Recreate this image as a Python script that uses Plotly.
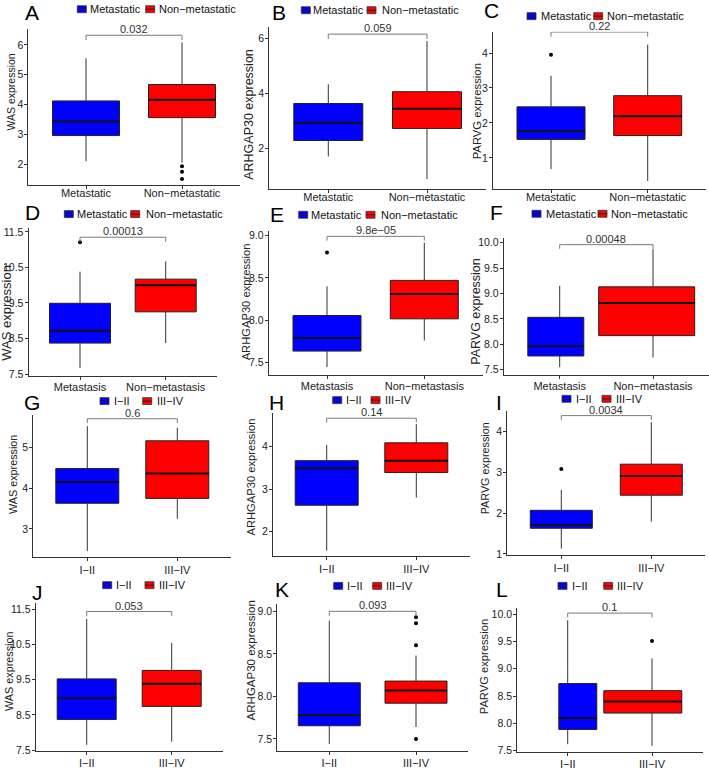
import plotly.graph_objects as go

W, H = 709, 770
BLUE, RED = "#0000FF", "#FF0000"
FONT = "Liberation Sans, Arial, sans-serif"

# ---------------- data ----------------
panel_letters = ["A", "B", "C", "D", "E", "F", "G", "H", "I", "J", "K", "L"]
genes = ["WAS", "ARHGAP30", "PARVG"] * 4
x_categories = ([["Metastatic", "Non−metastatic"]] * 3 +
                [["Metastasis", "Non−metastasis"]] * 3 +
                [["I−II", "III−IV"]] * 6)
legend_names = [["Metastatic", "Non−metastatic"]] * 6 + [["I−II", "III−IV"]] * 6

# [lower whisker, Q1, median, Q3, upper whisker]
group1_stats = [
    [2.10, 2.96, 3.43, 4.12, 5.55],
    [1.71, 2.29, 2.94, 3.64, 4.34],
    [0.68, 1.53, 1.76, 2.46, 3.35],
    [7.67, 8.37, 8.72, 9.49, 10.38],
    [7.445, 7.635, 7.79, 8.055, 8.40],
    [7.55, 7.77, 7.96, 8.53, 9.15],
    [2.46, 3.63, 4.15, 4.48, 5.52],
    [1.55, 2.62, 3.49, 3.67, 4.04],
    [1.13, 1.63, 1.71, 2.07, 2.57],
    [7.65, 8.37, 8.97, 9.52, 11.22],
    [7.44, 7.655, 7.78, 8.16, 8.89],
    [7.62, 7.89, 8.10, 8.73, 9.89],
]
group2_stats = [
    [2.05, 3.56, 4.16, 4.67, 6.08],
    [0.88, 2.73, 3.45, 4.07, 5.92],
    [0.34, 1.64, 2.19, 2.78, 4.24],
    [8.37, 9.25, 10.00, 10.17, 10.67],
    [7.76, 8.016, 8.31, 8.47, 8.915],
    [7.74, 8.17, 8.81, 9.13, 9.87],
    [3.25, 3.75, 4.36, 5.16, 5.48],
    [2.80, 3.39, 3.67, 4.09, 4.53],
    [1.79, 2.44, 2.91, 3.20, 4.23],
    [7.74, 8.74, 9.38, 9.76, 10.54],
    [7.64, 7.92, 8.07, 8.18, 8.48],
    [7.59, 8.19, 8.40, 8.60, 9.19],
]
group1_outliers = [[], [], [3.95], [11.21], [8.80], [], [], [], [3.08], [], [], []]
group2_outliers = [[1.93, 1.75, 1.50], [], [], [], [], [], [], [], [], [],
                   [8.93, 8.86, 8.60, 7.50], [9.51]]

p_values = ["0.032", "0.059", "0.22", "0.00013", "9.8e−05", "0.00048",
            "0.6", "0.14", "0.0034", "0.053", "0.093", "0.1"]
bracket_y = [6.32, 6.17, 4.60, 11.35, 8.99, 9.96, 5.70, 4.67, 4.39, 11.43, 9.00, 10.02]

y_tick_values = [
    [2, 3, 4, 5, 6], [2, 4, 6], [1, 2, 3, 4],
    [7.5, 8.5, 9.5, 10.5, 11.5], [7.5, 8.0, 8.5, 9.0], [7.5, 8.0, 8.5, 9.0, 9.5, 10.0],
    [3, 4, 5], [2, 3, 4], [1, 2, 3, 4],
    [7.5, 8.5, 9.5, 10.5, 11.5], [7.5, 8.0, 8.5, 9.0], [7.5, 8.0, 8.5, 9.0, 9.5, 10.0],
]
y_ranges = [
    [1.30, 6.54], [0.52, 6.44], [0.11, 4.61],
    [7.45, 11.62], [7.355, 9.05], [7.40, 10.10],
    [2.31, 5.80], [1.42, 4.80], [0.97, 4.51],
    [7.48, 11.68], [7.36, 9.09], [7.48, 10.12],
]

# ---------------- layout (pixels) ----------------
centers = [(86, 182), (328.3, 427), (551, 647.7),
           (80, 165.7), (327, 424.3), (559.7, 653),
           (87.3, 177.3), (326.7, 416.3), (561.3, 651.3),
           (86.7, 171.7), (329.3, 416), (567.7, 652)]
plot_tb = [(27, 185), (25, 189), (30, 189),
           (228, 377.7), (231.7, 376.7), (238, 376.7),
           (417, 561), (415, 560), (413, 559),
           (607, 756.7), (608, 756.7), (612, 757.7)]
box_w_px = [(67, 67), (69, 69), (68, 68), (61, 61), (68, 68), (56, 96),
            (63, 63), (63, 63), (62, 62), (59, 59), (62, 62), (38, 78)]
box_shift_px = [(0, 0)] * 5 + [(-3.9, -6.3)] + [(0, 0)] * 5 + [(10.1, -9.2)]
legend_pos = [(77.3, 88.3, 145.7, 156.7, 7.3), (301.3, 311, 367, 380, 8.3),
              (527, 538.7, 593.7, 605.3, 14.3), (64.3, 75, 130.7, 144, 214.3),
              (298.7, 309.3, 366, 379.3, 215), (532, 543.7, 598, 609.3, 214),
              (100, 112.3, 142.7, 155, 403.3), (332.7, 344.3, 371, 382.7, 402.3),
              (562, 573.7, 602, 613.7, 401), (102.7, 114, 145, 156.7, 589.3),
              (333.7, 345, 372.7, 384.3, 590), (558, 569.7, 603.7, 615.3, 590)]
letter_pos = [(32, 11), (279.3, 11), (491, 9), (32.5, 213), (277, 215), (496, 213),
              (32, 405), (276, 405), (499, 405), (37.5, 597), (282, 594), (502, 594)]
ytitle_pos = [(10.7, 90.8, 10.5), (249, 114, 12.5), (477, 110.5, 11.3),
              (7, 314, 13), (245.5, 303, 11.2), (476.5, 312.5, 12.5),
              (13, 478, 10.8), (251.5, 480, 11.2), (484.5, 471.7, 10.8),
              (8.3, 676.7, 10.8), (250.5, 665.8, 11.5), (483.5, 671.7, 11.2)]
x_label_standoff = [-5] * 3 + [-2] * 3 + [0] * 3 + [-1] * 3


def px(x):
    return x / W


def py(y):
    return 1 - y / H


fig = go.Figure()
shapes, annotations = [], []
layout_axes = {}

for k in range(12):
    n = k + 1
    xa = "x" if n == 1 else f"x{n}"
    ya = "y" if n == 1 else f"y{n}"
    c0, c1 = centers[k]
    s = c1 - c0
    top, bot = plot_tb[k]
    yr = y_ranges[k]
    dec = any(v % 1 for v in y_tick_values[k])

    layout_axes["xaxis" if n == 1 else f"xaxis{n}"] = dict(
        domain=[max(0, px(c0 - 0.6 * s)), min(1, px(c1 + 0.6 * s))],
        range=[-0.6, 1.6], anchor=ya, tickvals=[0, 1], ticktext=x_categories[k],
        showline=True, linecolor="#333", linewidth=1, ticks="outside", ticklen=3,
        tickcolor="#333", tickfont=dict(size=11, color="#222", family=FONT),
        ticklabelstandoff=x_label_standoff[k],
        showgrid=False, zeroline=False, fixedrange=True)
    layout_axes["yaxis" if n == 1 else f"yaxis{n}"] = dict(
        domain=[py(bot), py(top)], range=yr, anchor=xa,
        tickvals=y_tick_values[k], tickformat=".1f" if dec else "d",
        showline=True, linecolor="#333", linewidth=1, ticks="outside", ticklen=3,
        tickcolor="#333", tickfont=dict(size=10.5, color="#222", family=FONT),
        ticklabelstandoff=-1,
        showgrid=False, zeroline=False, fixedrange=True)

    for g, (stats, outl, col) in enumerate([(group1_stats[k], group1_outliers[k], BLUE),
                                             (group2_stats[k], group2_outliers[k], RED)]):
        lo, q1, med, q3, hi = stats
        bw = box_w_px[k][g] / s
        bx = g + box_shift_px[k][g] / s
        fig.add_trace(go.Scatter(x=[g, g, None, g, g], y=[lo, q1, None, q3, hi],
                                 mode="lines", line=dict(color="#333", width=1),
                                 xaxis=xa, yaxis=ya, showlegend=False, hoverinfo="skip"))
        fig.add_trace(go.Box(x=[bx], q1=[q1], median=[med], q3=[q3],
                             lowerfence=[q1], upperfence=[q3], width=bw,
                             fillcolor=col, line=dict(color="#222", width=1),
                             whiskerwidth=0, boxpoints=False, xaxis=xa, yaxis=ya,
                             showlegend=False, hoverinfo="skip"))
        fig.add_trace(go.Scatter(x=[bx - bw / 2, bx + bw / 2], y=[med, med], mode="lines",
                                 line=dict(color="#111", width=2), xaxis=xa, yaxis=ya,
                                 showlegend=False, hoverinfo="skip"))
        if outl:
            fig.add_trace(go.Scatter(x=[g] * len(outl), y=outl, mode="markers",
                                     marker=dict(color="#000", size=4), xaxis=xa, yaxis=ya,
                                     showlegend=False, hoverinfo="skip", cliponaxis=False))

    tip = 0.03 * (yr[1] - yr[0])
    b = bracket_y[k]
    fig.add_trace(go.Scatter(x=[0, 0, 1, 1], y=[b - tip, b, b, b - tip], mode="lines",
                             line=dict(color="#7a7a7a", width=1), xaxis=xa, yaxis=ya,
                             showlegend=False, hoverinfo="skip", cliponaxis=False))
    annotations.append(dict(x=0.5, y=b, xref=xa, yref=ya, text=p_values[k],
                            showarrow=False, yanchor="bottom", yshift=-2,
                            font=dict(size=11, color="#333", family=FONT)))

    lx, ly = letter_pos[k]
    annotations.append(dict(x=px(lx), y=py(ly), xref="paper", yref="paper",
                            text=panel_letters[k], showarrow=False, xanchor="center",
                            yanchor="middle", font=dict(size=21, color="#000", family=FONT)))

    tx, ty, ts = ytitle_pos[k]
    annotations.append(dict(x=px(tx), y=py(ty), xref="paper", yref="paper",
                            text=f"{genes[k]} expression", textangle=-90, showarrow=False,
                            xanchor="center", yanchor="middle",
                            font=dict(size=ts, color="#222", family=FONT)))

    k1, t1, k2, t2, lyy = legend_pos[k]
    for kx, tx2, col, name in [(k1, t1, BLUE, legend_names[k][0]),
                               (k2, t2, RED, legend_names[k][1])]:
        shapes.append(dict(type="rect", xref="paper", yref="paper",
                           x0=px(kx), x1=px(kx + 9), y0=py(lyy + 3.5), y1=py(lyy - 3.5),
                           fillcolor=col, line=dict(color="#333", width=0.8)))
        shapes.append(dict(type="line", xref="paper", yref="paper",
                           x0=px(kx), x1=px(kx + 9), y0=py(lyy), y1=py(lyy),
                           line=dict(color="#222", width=1)))
        annotations.append(dict(x=px(tx2), y=py(lyy), xref="paper", yref="paper",
                                text=name, showarrow=False, xanchor="left",
                                yanchor="middle",
                                font=dict(size=11, color="#111", family=FONT)))

fig.update_layout(width=W, height=H, autosize=False,
                  margin=dict(l=0, r=0, t=0, b=0),
                  paper_bgcolor="white", plot_bgcolor="white",
                  font=dict(family=FONT), showlegend=False,
                  shapes=shapes, annotations=annotations, **layout_axes)

fig.write_html("out.html")
